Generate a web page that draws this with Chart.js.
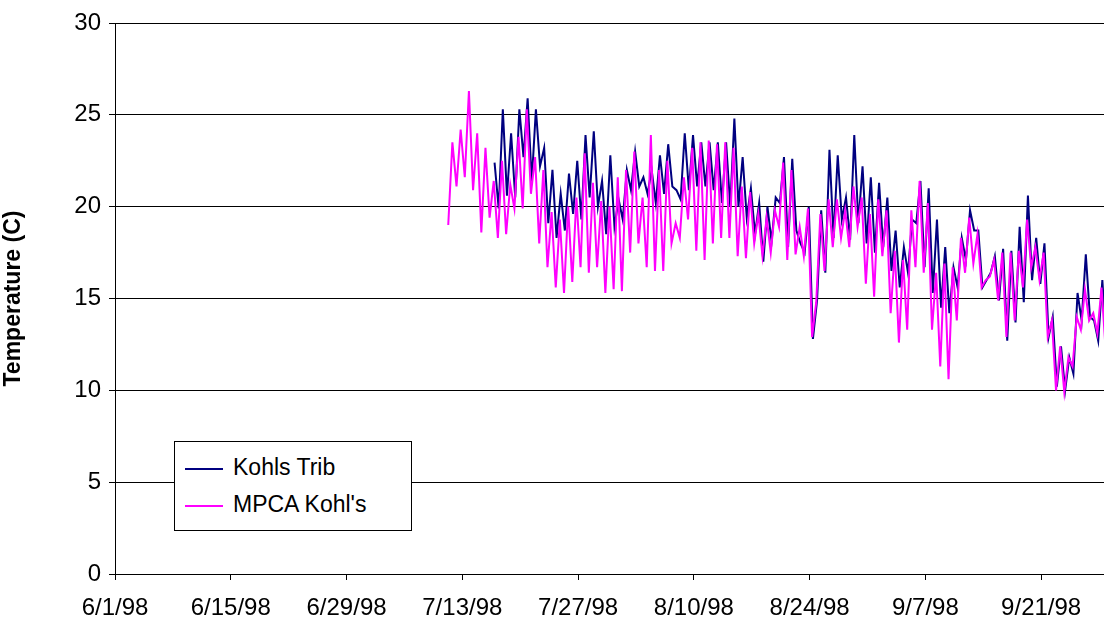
<!DOCTYPE html>
<html><head><meta charset="utf-8">
<script src="https://cdn.jsdelivr.net/npm/chart.js@4/dist/chart.umd.min.js"></script>
<style>
body{margin:0;background:#fff;font-family:"Liberation Sans",Arial,sans-serif}
#wrap{position:relative;width:1104px;height:632px}
#legend{position:absolute;left:174px;top:441px;width:236px;height:88px;border:1px solid #000;background:#fff;font-size:23px}
#legend div{position:absolute;left:10px;height:30px;line-height:30px}
#legend span{display:inline-block;width:38px;height:2px;vertical-align:middle;margin-right:10px}
</style></head>
<body><div id="wrap">
<canvas id="c" width="1104" height="632"></canvas>
<div id="legend">
<div style="top:10px"><span style="background:#000080"></span>Kohls Trib</div>
<div style="top:47px"><span style="background:#ff00ff"></span>MPCA Kohl's</div>
</div></div>
<script>
// days counted from 6/1/98, readings every half day
const tickLabels = ["6/1/98","6/15/98","6/29/98","7/13/98","7/27/98","8/10/98","8/24/98","9/7/98","9/21/98"];
const mpcaStart = 40.3;
const mpcaValues = [19.0,23.5,21.1,24.2,21.6,26.3,20.9,24.0,18.6,23.2,19.4,21.4,18.3,22.5,18.5,21.2,19.9,23.8,19.9,25.3,
 20.7,22.7,18.0,22.0,16.7,19.7,15.6,19.3,15.3,20.0,15.9,20.5,16.7,22.9,16.4,21.3,16.7,20.3,15.3,20.0,
 15.5,21.6,15.4,22.0,17.5,23.0,18.0,20.5,16.7,23.9,16.5,22.0,16.5,22.5,18.0,19.1,18.3,21.6,19.3,23.2,
 17.6,23.5,17.1,23.6,18.0,23.4,18.3,23.5,18.3,23.2,17.3,21.1,17.2,20.8,18.0,19.6,17.3,19.4,17.5,19.8,
 18.9,22.4,17.1,22.0,17.4,18.9,17.3,19.9,12.9,14.8,19.6,16.5,20.4,17.8,20.4,18.3,19.8,17.8,21.1,18.9,
 20.5,15.8,19.6,15.1,20.4,17.3,19.8,14.2,17.6,12.6,17.1,13.3,19.8,16.7,21.4,16.4,20.2,13.3,16.4,11.3,
 16.9,10.6,16.7,13.8,18.3,16.4,19.4,16.9,18.5,15.6,16.0,16.2,17.1,14.9,17.5,12.9,17.5,13.8,17.6,15.6,
 19.3,16.7,17.8,16.0,17.5,12.9,13.8,10.0,12.4,9.9,11.8,11.3,14.0,13.3,15.5,13.8,14.2,13.1,15.6,12.2,13.8];
const kohlsStart = 45.9;
const kohlsValues = [22.4,19.9,25.3,20.6,24.0,20.5,25.3,22.7,25.9,21.4,25.3,22.2,23.2,19.1,22.0,18.3,20.7,18.7,21.8,19.6,
 22.5,19.3,23.9,20.5,24.1,20.0,21.4,18.5,22.8,18.9,20.4,19.3,22.0,20.9,23.0,21.1,21.6,20.7,22.0,20.2,
 22.8,20.7,23.4,21.1,20.9,20.4,24.0,20.9,23.9,21.1,23.5,21.1,23.5,20.9,23.5,20.2,23.5,20.0,24.8,20.0,
 22.7,19.4,21.0,18.5,20.2,17.0,20.0,18.1,20.5,
 20.2,22.7,17.8,22.6,18.7,18.0,17.5,20.0,12.8,14.9,19.8,16.4,23.1,18.3,22.8,19.3,20.5,18.2,23.9,19.1,
 22.2,18.0,21.6,17.5,21.3,17.8,20.5,16.5,18.7,15.6,17.8,16.4,19.3,19.1,21.4,16.7,21.0,15.3,19.3,14.5,
 17.8,14.2,16.7,15.6,18.3,17.1,19.8,18.7,18.7,15.6,16.0,16.4,17.3,14.9,17.7,12.7,17.6,13.7,18.9,14.8,
 20.6,16.0,18.3,15.8,18.0,12.9,14.0,10.2,12.4,10.0,11.8,10.9,15.3,13.8,17.4,14.0,13.8,12.7,16.0,12.4,14.5];
const toPts = (start, vals) => vals.map((v, i) => ({x: start + i * 0.5, y: v}));
const tickDays = tickLabels.map((_, i) => i * 14);

new Chart(document.getElementById("c"), {
  type: "line",
  data: {datasets: [
    {label: "MPCA Kohl's", data: toPts(mpcaStart, mpcaValues), borderColor: "#ff00ff", borderWidth: 2, pointRadius: 0, tension: 0},
    {label: "Kohls Trib", data: toPts(kohlsStart, kohlsValues), borderColor: "#000080", borderWidth: 2, pointRadius: 0, tension: 0}
  ]},
  options: {
    responsive: false, animation: false,
    layout: {padding: {top: 23, right: 0, left: 0, bottom: 0}},
    plugins: {legend: {display: false}, tooltip: {enabled: false}},
    scales: {
      x: {type: "linear", min: 0, max: 119.6,
        afterBuildTicks: s => { s.ticks = tickDays.map(v => ({value: v})); },
        afterFit: s => { s.height = 58; },
        border: {color: "#000"},
        grid: {drawOnChartArea: false, color: "#000", tickLength: 6},
        ticks: {color: "#000", font: {size: 24, family: "Liberation Sans"}, maxRotation: 0, padding: 14,
          callback: (v, i) => tickLabels[i]}},
      y: {min: 0, max: 30,
        afterFit: s => { s.width = 115; },
        border: {color: "#000"},
        grid: {color: "#000", tickLength: 6},
        ticks: {stepSize: 5, color: "#000", font: {size: 24, family: "Liberation Sans"}, padding: 8},
        title: {display: true, text: "Temperature (C)", color: "#000", padding: {top: 0, bottom: 0}, font: {size: 23, weight: "bold", family: "Liberation Sans"}}}
    }
  }
});
</script></body></html>
